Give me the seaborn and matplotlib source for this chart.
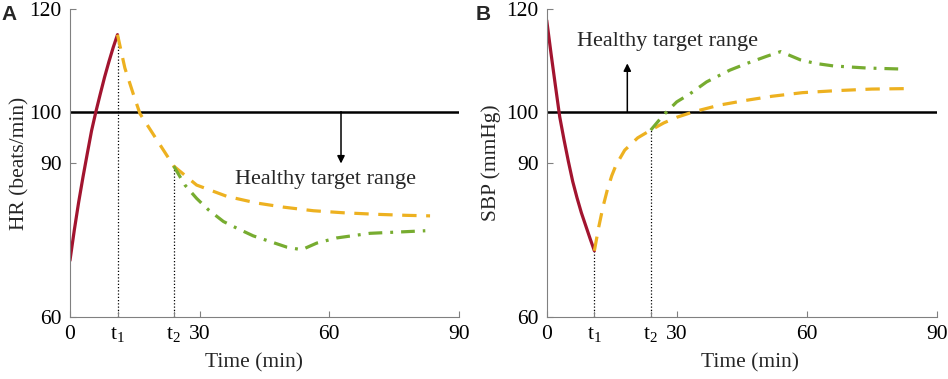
import matplotlib
matplotlib.use("Agg")
import matplotlib.pyplot as plt
import pandas as pd
import seaborn as sns

# time markers (min)
t1 = 11
t2 = 24

# panel A: heart rate
hr_red_t = [0, 1, 2, 3, 4, 5, 6, 7, 8, 9, 10, 11]
hr_red = [71, 76.9, 82.3, 87.2, 91.8, 96.3, 100, 103.4, 106.7, 109.7, 112.5, 115]
hr_orange_t = [11, 12.7, 14.7, 16.2, 20.1, 24, 29.3, 36.3, 43.2, 49.4, 56.3, 63.3, 71, 77.9, 83.3]
hr_orange = [115, 108.5, 103.3, 99.6, 94.5, 89.4, 85.7, 83.5, 82.2, 81.4, 80.7, 80.3, 80.0, 79.8, 79.7]
hr_green_t = [24, 26.6, 29.3, 32, 35.5, 38.6, 42.4, 46.3, 50.2, 53.6, 57.1, 61.7, 69.4, 77.2, 82.2]
hr_green = [89.4, 85.7, 83.1, 80.9, 78.6, 77.3, 75.8, 74.7, 73.6, 73.1, 74.4, 75.4, 76.3, 76.6, 76.8]

# panel B: systolic blood pressure
sbp_red_t = [0, 1, 2, 3, 4, 5, 6, 7, 8, 9, 10, 11]
sbp_red = [117.8, 111.3, 105.1, 99, 94.5, 90.3, 86.4, 83.2, 80.3, 77.8, 75.3, 72.9]
sbp_orange_t = [11, 12, 13, 14, 15, 16, 18, 21, 24, 27, 30, 34, 40, 46, 52, 59, 67, 75, 84]
sbp_orange = [72.9, 77.5, 81.5, 84.8, 87.5, 89.6, 92.5, 94.9, 96.4, 97.8, 98.9, 100, 101.3,
              102.2, 103, 103.7, 104.1, 104.4, 104.5]
sbp_green_t = [24, 26.9, 30, 33.1, 36.9, 42.3, 46.2, 50.8, 54, 58.5, 62, 66.2, 73.8, 81.9]
sbp_green = [96.4, 99.3, 101.9, 103.5, 105.8, 108.1, 109.4, 110.8, 111.7, 110.1, 109.4, 108.9, 108.5, 108.3]

threshold = 100
xticks = [0, t1, t2, 30, 60, 90]
xticklabels = ["0", "t$_1$", "t$_2$", "30", "60", "90"]
yticks = [60, 90, 100, 120]

RED = "#A2142F"
ORANGE = "#EDB120"
GREEN = "#77AC30"

sns.set_style("ticks")
plt.rcParams["font.family"] = ["Liberation Serif", "DejaVu Serif"]
plt.rcParams["mathtext.fontset"] = "custom"
plt.rcParams["mathtext.rm"] = "Liberation Serif"
plt.rcParams["mathtext.it"] = "Liberation Serif"

fig = plt.figure(figsize=(9.48, 3.79), dpi=100)
ax_a = fig.add_axes([0.0738, 0.1636, 0.4104, 0.8127])
ax_b = fig.add_axes([0.5767, 0.1636, 0.4114, 0.8127])


def draw_panel(ax, red, orange, green, ylabel, xlabel_x, ylabel_x):
    for (t, v), color, ls in [(red, RED, "-"), (orange, ORANGE, (0, (4.5, 3))),
                              (green, GREEN, (0, (4.3, 2.5, 0.9, 2.5)))]:
        sns.lineplot(x=t, y=v, ax=ax, color=color, lw=2.3, linestyle=ls,
                     sort=False, estimator=None)
    ax.axhline(threshold, color="black", lw=1.8, zorder=1)
    # dotted markers at t1 / t2 down to the axis
    y1 = red[1][-1]
    y2 = green[1][0]
    ax.plot([t1, t1], [60, y1], color="black", lw=0.9, linestyle=(0, (1, 1.6)), zorder=0)
    ax.plot([t2, t2], [60, y2], color="black", lw=0.9, linestyle=(0, (1, 1.6)), zorder=0)

    ax.set_xlim(0, 90)
    ax.set_ylim(60, 120)
    ax.set_xticks(xticks)
    ax.set_xticklabels(xticklabels)
    ax.set_yticks(yticks)
    ax.tick_params(direction="in", length=4, width=0.8, color="#808080",
                   labelsize=15.5, labelcolor="black")
    ax.tick_params(axis="y", pad=6)
    ax.tick_params(axis="x", pad=6)
    for s in ["top", "right"]:
        ax.spines[s].set_visible(False)
    for s in ["left", "bottom"]:
        ax.spines[s].set_color("#808080")
        ax.spines[s].set_linewidth(0.8)
    ax.set_xlabel("Time (min)", fontsize=15.5)
    ax.set_ylabel(ylabel, fontsize=15.5)
    ax.xaxis.set_label_coords(xlabel_x, -0.118)
    ax.yaxis.set_label_coords(ylabel_x, 0.5)


draw_panel(ax_a, (hr_red_t, hr_red), (hr_orange_t, hr_orange),
           (hr_green_t, hr_green), "HR (beats/min)", 0.472, -0.105)
draw_panel(ax_b, (sbp_red_t, sbp_red), (sbp_orange_t, sbp_orange),
           (sbp_green_t, sbp_green), "SBP (mmHg)", 0.521, -0.118)

arrow = dict(arrowstyle="-|>", color="black", lw=1.1, mutation_scale=11,
             shrinkA=0, shrinkB=0)
ax_a.annotate("", xy=(62.7, 89.9), xytext=(62.7, 100), arrowprops=arrow)
ax_a.text(59.2, 86.7, "Healthy target range", fontsize=16, ha="center", va="center")
ax_b.annotate("", xy=(18.6, 109.4), xytext=(18.6, 100), arrowprops=arrow)
ax_b.text(27.8, 113.6, "Healthy target range", fontsize=16, ha="center", va="center")

fig.text(0.002, 0.963, "A", fontsize=15, fontweight="bold", family="Liberation Sans",
         va="center", ha="left")
fig.text(0.502, 0.963, "B", fontsize=15, fontweight="bold", family="Liberation Sans",
         va="center", ha="left")

fig.savefig("out.png", dpi=100)
